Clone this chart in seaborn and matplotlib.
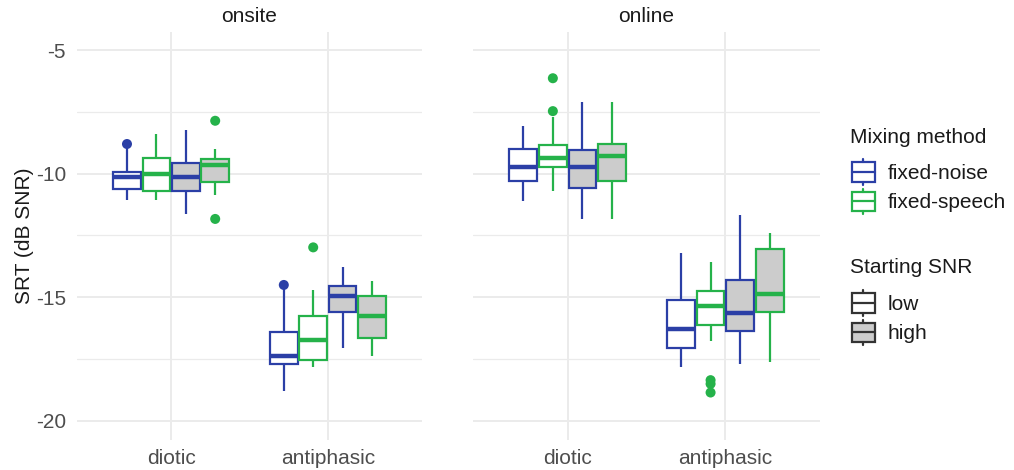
import numpy as np
import pandas as pd
import matplotlib
matplotlib.use("Agg")
import matplotlib.pyplot as plt
import seaborn as sns
from matplotlib.legend_handler import HandlerBase
from matplotlib.patches import Rectangle
from matplotlib.lines import Line2D

# ---------------- data ----------------
sites = ["onsite", "online"]
conditions = ["diotic", "antiphasic"]
methods = ["fixed-noise", "fixed-speech"]
snrs = ["low", "high"]

# box order inside each site/condition: (low, noise), (low, speech), (high, noise), (high, speech)
box_site = ["onsite"] * 8 + ["online"] * 8
box_condition = (["diotic"] * 4 + ["antiphasic"] * 4) * 2
box_method = ["fixed-noise", "fixed-speech"] * 8
box_snr = (["low", "low", "high", "high"]) * 4

whisker_low = [-11.07, -11.07, -11.64, -10.86,
               -18.78, -17.81, -17.06, -17.36,
               -11.09, -10.69, -11.83, -11.83,
               -17.81, -16.77, -17.71, -17.63]
q1 = [-10.63, -10.70, -10.69, -10.33,
      -17.71, -17.54, -15.58, -16.66,
      -10.28, -9.74, -10.58, -10.28,
      -17.04, -16.12, -16.36, -15.61]
median = [-10.12, -10.01, -10.15, -9.65,
          -17.36, -16.73, -14.94, -15.74,
          -9.74, -9.37, -9.74, -9.27,
          -16.29, -15.35, -15.65, -14.88]
q3 = [-9.92, -9.35, -9.56, -9.41,
      -16.39, -15.74, -14.54, -14.95,
      -9.02, -8.84, -9.04, -8.80,
      -15.11, -14.73, -14.30, -13.05]
whisker_high = [-8.97, -8.41, -8.23, -9.02,
                -14.68, -14.70, -13.76, -14.33,
                -8.06, -7.70, -7.12, -7.12,
                -13.20, -13.56, -11.67, -12.41]

out_site = ["onsite", "onsite", "onsite", "onsite", "onsite",
            "online", "online", "online", "online", "online"]
out_condition = ["diotic", "diotic", "diotic", "antiphasic", "antiphasic",
                 "diotic", "diotic", "antiphasic", "antiphasic", "antiphasic"]
out_method = ["fixed-noise", "fixed-speech", "fixed-speech", "fixed-noise", "fixed-speech",
              "fixed-speech", "fixed-speech", "fixed-speech", "fixed-speech", "fixed-speech"]
out_snr = ["low", "high", "high", "low", "low",
           "low", "low", "low", "low", "low"]
out_value = [-8.80, -7.86, -11.83, -14.50, -12.98,
             -7.47, -6.14, -18.35, -18.50, -18.85]

# ---------------- style ----------------
edge_colors = {"fixed-noise": "#2B3FA6", "fixed-speech": "#25B24A"}
fill_colors = {"low": "#FFFFFF", "high": "#CCCCCC"}
hue_levels = [("low", "fixed-noise"), ("low", "fixed-speech"),
              ("high", "fixed-noise"), ("high", "fixed-speech")]
hue_labels = [f"{s}|{m}" for s, m in hue_levels]
BOX_W = 0.75
FS = 15
TXT = "#1A1A1A"
TICK = "#4D4D4D"
GRID = "#EBEBEB"

sns.set_style("white")
plt.rcParams["font.family"] = ["Liberation Sans", "DejaVu Sans"]
plt.rcParams["axes.unicode_minus"] = False

# Build a long table whose quartiles / extremes reproduce the box statistics
rows = []
for i in range(len(box_site)):
    lab = f"{box_snr[i]}|{box_method[i]}"
    vals = [whisker_low[i]] + [q1[i]] * 20 + [median[i]] * 20 + [q3[i]] * 20 + [whisker_high[i]]
    for v in vals:
        rows.append((box_site[i], box_condition[i], lab, v))
df = pd.DataFrame(rows, columns=["site", "condition", "group", "value"])
out_df = pd.DataFrame({"site": out_site, "condition": out_condition,
                       "group": [f"{s}|{m}" for s, m in zip(out_snr, out_method)],
                       "method": out_method, "value": out_value})

W, H = 1014, 470
fig = plt.figure(figsize=(W / 100, H / 100), dpi=100)
panel_px = [(77, 422), (473, 820)]
top_px, bot_px = 31.5, 439.5
axes = []
for (l, r) in panel_px:
    axes.append(fig.add_axes([l / W, 1 - bot_px / H, (r - l) / W, (bot_px - top_px) / H]))

n_h = len(hue_labels)
offsets = {lab: -BOX_W / 2 + BOX_W / n_h * (k + 0.5) for k, lab in enumerate(hue_labels)}

for ax, site in zip(axes, sites):
    for (snr, meth), lab in zip(hue_levels, hue_labels):
        sub = df[(df.site == site) & (df.group == lab)]
        sns.boxplot(data=sub, x="condition", y="value", hue="group",
                    order=conditions, hue_order=hue_labels,
                    palette={h: fill_colors[snr] for h in hue_labels},
                    saturation=1, linecolor=edge_colors[meth], linewidth=1.6,
                    width=BOX_W, gap=0.06, whis=(0, 100), showfliers=False,
                    showcaps=False, medianprops=dict(linewidth=3.2),
                    dodge=True, legend=False, ax=ax)
    o = out_df[out_df.site == site]
    xs = [conditions.index(c) + offsets[g] for c, g in zip(o.condition, o.group)]
    ax.scatter(xs, o.value, s=52, c=[edge_colors[m] for m in o.method],
               linewidths=0, zorder=5)

    ax.set_xlim(-0.6, 1.6)
    ax.set_ylim(-20.75, -4.25)
    ax.set_yticks([-20, -15, -10, -5])
    ax.set_yticks([-17.5, -12.5, -7.5], minor=True)
    ax.set_axisbelow(True)
    ax.grid(which="major", color=GRID, linewidth=1.4)
    ax.grid(which="minor", axis="y", color=GRID, linewidth=0.9)
    for s in ax.spines.values():
        s.set_visible(False)
    ax.tick_params(which="both", length=0, labelsize=FS, labelcolor=TICK)
    ax.tick_params(axis="x", pad=7)
    ax.tick_params(axis="y", pad=8)
    ax.set_xlabel("")
    ax.set_ylabel("")
    ax.set_title(site, fontsize=FS, color=TXT, pad=7)

axes[0].set_ylabel("SRT (dB SNR)", fontsize=FS, color=TXT, labelpad=1)
axes[1].set_yticklabels([])


class BoxKeyHandler(HandlerBase):
    def create_artists(self, legend, orig_handle, xdescent, ydescent,
                       width, height, fontsize, trans):
        ec = orig_handle.get_edgecolor()
        fc = orig_handle.get_facecolor()
        x0, y0 = -xdescent, -ydescent
        bh = height * 0.71
        by = y0 + (height - bh) / 2
        rect = Rectangle((x0, by), width, bh, facecolor=fc, edgecolor=ec,
                         linewidth=1.6, transform=trans)
        mid = Line2D([x0, x0 + width], [y0 + height / 2] * 2, color=ec,
                     linewidth=1.6, transform=trans)
        wt = Line2D([x0 + width / 2] * 2, [by + bh, y0 + height - 1], color=ec,
                    linewidth=1.6, transform=trans)
        wb = Line2D([x0 + width / 2] * 2, [y0 + 1, by], color=ec,
                    linewidth=1.6, transform=trans)
        return [rect, wt, wb, mid]


h_method = [Rectangle((0, 0), 1, 1, facecolor="white", edgecolor=edge_colors[m]) for m in methods]
h_snr = [Rectangle((0, 0), 1, 1, facecolor=fill_colors[s], edgecolor="#333333") for s in snrs]
leg_kw = dict(loc="upper left", frameon=False, fontsize=FS,
              handlelength=1.1, handleheight=1.69,
              labelspacing=0.07, handletextpad=0.6, borderpad=0, borderaxespad=0,
              handler_map={Rectangle: BoxKeyHandler()})
leg1 = fig.legend(h_method, methods, bbox_to_anchor=(852 / W, 1 - 158 / H), **leg_kw)
leg2 = fig.legend(h_snr, snrs, bbox_to_anchor=(852 / W, 1 - 289 / H), **leg_kw)
for lg in (leg1, leg2):
    for t in lg.get_texts():
        t.set_color(TXT)
fig.text(850 / W, 1 - 143 / H, "Mixing method", fontsize=FS, color=TXT,
         ha="left", va="baseline")
fig.text(850 / W, 1 - 273 / H, "Starting SNR", fontsize=FS, color=TXT,
         ha="left", va="baseline")

fig.savefig("out.png", dpi=100)
